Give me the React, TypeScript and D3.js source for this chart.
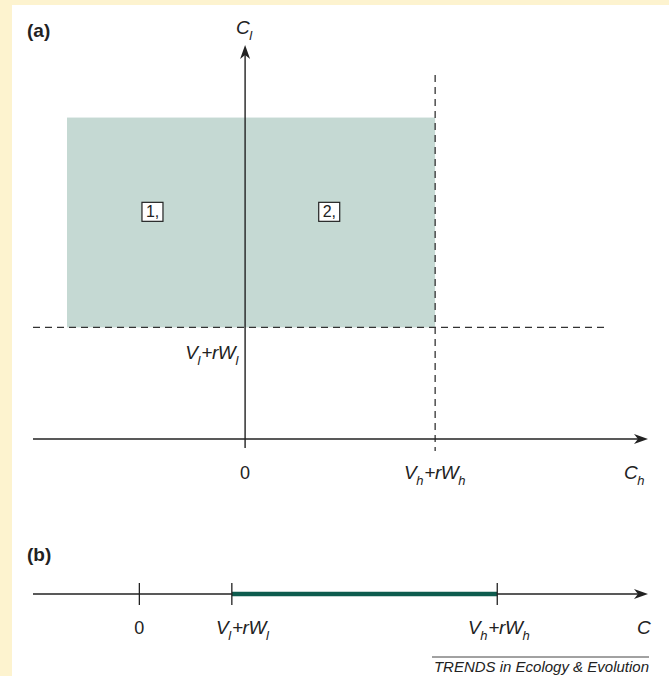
import React from 'react'
import * as d3 from 'd3'

// panel (a): conceptual positions on the C_h and C_l axes
const hDomain = [-1.116, 2.12]          // C_h axis extent
const lDomain = [-0.08, 3.53]           // C_l axis extent
const hThreshold = 1                    // V_h + rW_h
const lThreshold = 1                    // V_l + rW_l
const regionH = [-0.937, 1]             // shaded region, C_h range
const regionL = [1, 2.88]               // shaded region, C_l range
const regionLabels = [
  { text: '1,', h: -0.49, l: 2.04 },
  { text: '2,', h: 0.44, l: 2.04 },
]

// panel (b): single C axis
const cDomain = [-1.15, 5.5]
const cTicks = [0, 1, 3.87]             // 0, V_l+rW_l, V_h+rW_h
const cRange = [1, 3.87]

const W = 669
const H = 676
const ink = '#222'
const font = '"Liberation Sans", Arial, Helvetica, sans-serif'

const fs = (size: number, italic = false, bold = false, spacing = italic ? -0.4 : 0) => ({
  fontSize: `${size}px`,
  fontStyle: italic ? 'italic' : 'normal',
  fontWeight: bold ? 'bold' : 'normal',
  fontFamily: font,
  letterSpacing: `${spacing}px`,
})

const Sub = ({ base, sub, size = 19 }: { base: string; sub: string; size?: number }) => (
  <>
    <tspan>{base}</tspan>
    <tspan style={{ fontSize: `${Math.round(size * 0.68)}px` }} dy={size * 0.3}>{sub}</tspan>
    <tspan dy={-size * 0.3}>{'\u200a'}</tspan>
  </>
)

const Expr = ({ s }: { s: string }) => (
  <>
    <Sub base="V" sub={s} />
    <tspan>+r</tspan>
    <Sub base="W" sub={s} />
  </>
)

const Arrow = ({ x, y, dir }: { x: number; y: number; dir: 'up' | 'right' }) => {
  const p = d3.path()
  if (dir === 'right') {
    p.moveTo(x, y); p.lineTo(x - 14, y - 5); p.lineTo(x - 10, y); p.lineTo(x - 14, y + 5); p.closePath()
  } else {
    p.moveTo(x, y); p.lineTo(x - 5, y + 14); p.lineTo(x, y + 10); p.lineTo(x + 5, y + 14); p.closePath()
  }
  return <path d={p.toString()} fill={ink} />
}

export default function App() {
  const x = d3.scaleLinear().domain(hDomain).range([33, 648])
  const y = d3.scaleLinear().domain(lDomain).range([448, 45])
  const xb = d3.scaleLinear().domain(cDomain).range([33, 648])
  const yb = 594

  const x0 = x(0)
  const y0 = y(0)

  return (
    <svg width={W} height={H} style={{ position: 'absolute', left: 0, top: 0 }}>
      <rect x={0} y={0} width={W} height={H} fill="#fdf3cf" />
      <rect x={12} y={5} width={W - 12} height={H - 5} fill="#fff" />

      {/* panel (a) */}
      <text x={27} y={37} style={fs(19, false, true)} fill={ink}>(a)</text>
      <rect x={x(regionH[0])} y={y(regionL[1])} width={x(regionH[1]) - x(regionH[0])}
        height={y(regionL[0]) - y(regionL[1])} fill="#c5d9d3" />

      <line x1={x(hDomain[0])} x2={605} y1={y(lThreshold)} y2={y(lThreshold)}
        stroke="#333" strokeWidth={1.3} strokeDasharray="7 5" />
      <line x1={x(hThreshold)} x2={x(hThreshold)} y1={75} y2={y(0) + 12}
        stroke="#333" strokeWidth={1.3} strokeDasharray="7 5" />

      <line x1={x0} x2={x0} y1={y.range()[0]} y2={y(lDomain[1]) + 8} stroke={ink} strokeWidth={1.4} />
      <Arrow x={x0} y={y(lDomain[1])} dir="up" />
      <line x1={x(hDomain[0])} x2={x(hDomain[1]) - 8} y1={y0} y2={y0} stroke={ink} strokeWidth={1.4} />
      <Arrow x={x(hDomain[1])} y={y0} dir="right" />

      {regionLabels.map(d => (
        <g key={d.text}>
          <rect x={x(d.h) - 10} y={y(d.l) - 9} width={21} height={19} fill="#fff" stroke={ink} strokeWidth={1.2} />
          <text x={x(d.h) - 6} y={y(d.l) + 6} style={fs(16)} fill={ink}>{d.text}</text>
        </g>
      ))}

      <text x={236} y={34} style={fs(19, true)} fill={ink}><Sub base="C" sub="l" /></text>
      <text x={x0 - 6} y={y(lThreshold) + 32} style={fs(19, true)} textAnchor="end" fill={ink}>
        <Expr s="l" />
      </text>
      <text x={x0} y={y0 + 40} style={fs(18)} textAnchor="middle" fill={ink}>0</text>
      <text x={x(hThreshold)} y={y0 + 40} style={fs(19, true)} textAnchor="middle" fill={ink}>
        <Expr s="h" />
      </text>
      <text x={624} y={y0 + 40} style={fs(19, true)} fill={ink}><Sub base="C" sub="h" /></text>

      {/* panel (b) */}
      <text x={27} y={561} style={fs(19, false, true)} fill={ink}>(b)</text>
      <line x1={xb(cDomain[0])} x2={xb(cDomain[1]) - 8} y1={yb} y2={yb} stroke={ink} strokeWidth={1.4} />
      <Arrow x={xb(cDomain[1])} y={yb} dir="right" />
      <line x1={xb(cRange[0])} x2={xb(cRange[1])} y1={yb} y2={yb} stroke="#0e5c4e" strokeWidth={4.5} />
      {cTicks.map(t => (
        <line key={t} x1={xb(t)} x2={xb(t)} y1={yb - 11} y2={yb + 11} stroke={ink} strokeWidth={1.3} />
      ))}
      <text x={xb(0)} y={yb + 40} style={fs(18)} textAnchor="middle" fill={ink}>0</text>
      <text x={xb(1) + 11} y={yb + 40} style={fs(19, true)} textAnchor="middle" fill={ink}>
        <Expr s="l" />
      </text>
      <text x={xb(3.87) + 2} y={yb + 40} style={fs(19, true)} textAnchor="middle" fill={ink}>
        <Expr s="h" />
      </text>
      <text x={637} y={yb + 40} style={fs(19, true)} fill={ink}>C</text>

      <line x1={432} x2={649} y1={657} y2={657} stroke="#444" strokeWidth={1} />
      <text x={649} y={672} style={fs(15, true, false, 0)} textAnchor="end" fill={ink}>
        TRENDS in Ecology &amp; Evolution
      </text>
    </svg>
  )
}
